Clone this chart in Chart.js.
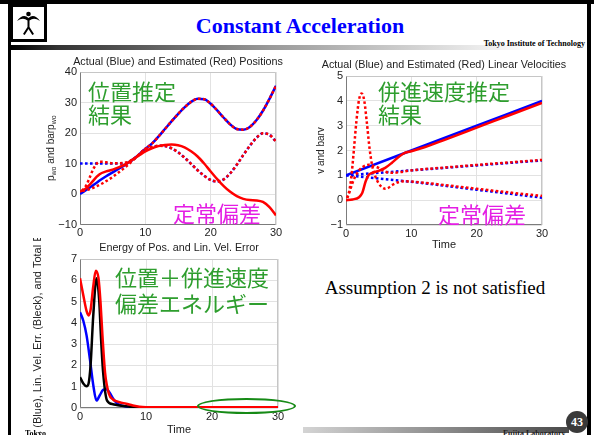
<!DOCTYPE html>
<html>
<head>
<meta charset="utf-8">
<script src="https://cdn.jsdelivr.net/npm/chart.js@4.4.1/dist/chart.umd.min.js"></script>
<style>
  html, body { margin: 0; padding: 0; background: #fff; }
  body { width: 594px; height: 435px; position: relative; overflow: hidden; font-family: "Liberation Serif", "Times New Roman", serif; }
  .abs { position: absolute; }
  canvas { position: absolute; display: block; }
  #c3 { background: #fff; }
  .jp { position: absolute; font-family: "Noto Sans CJK JP", sans-serif; font-size: 22px; white-space: pre; z-index: 5; }
  .green { color: #2e9e2e; }
  .magenta { color: #e41ee4; }
</style>
</head>
<body>
  <!-- slide frame -->
  <div class="abs" style="left:0;top:0;width:594px;height:4px;background:#000;"></div>
  <div class="abs" style="left:8px;top:0;width:3px;height:435px;background:#000;"></div>
  <div class="abs" style="left:587px;top:0;width:4px;height:435px;background:#000;"></div>
  <div class="abs" style="left:10px;top:4px;width:31px;height:32px;border:3px solid #000;background:#fff;">
    <svg width="31" height="32" viewBox="0 0 31 32">
      <circle cx="15.5" cy="7" r="2.3" fill="#000"/>
      <path d="M4 14 Q10 6 15.5 11 Q21 6 27 14 Q21 10 16.5 13.5 L16.5 20 L21 27 L19.3 28 L15.5 22 L11.7 28 L10 27 L14.5 20 L14.5 13.5 Q10 10 4 14 Z" fill="#000"/>
    </svg>
  </div>
  <div class="abs" style="left:11px;top:45px;width:576px;height:5px;background:linear-gradient(to right,#000 0%,#333 8%,#999 45%,#fff 90%);"></div>
  <div class="abs" style="left:0;top:13px;width:600px;text-align:center;font-weight:bold;font-size:22px;line-height:26px;color:#0000ff;">Constant Acceleration</div>
  <div class="abs" style="right:9px;top:39px;font-weight:bold;font-size:8px;line-height:10px;color:#000;">Tokyo Institute of Technology</div>

  <canvas id="c1" width="270" height="200" style="left:20px;top:52px;width:270px;height:200px;"></canvas>
  <canvas id="c2" width="280" height="204" style="left:300px;top:50px;width:280px;height:204px;"></canvas>
  <canvas id="c3" width="270" height="202" style="left:20px;top:238px;width:270px;height:202px;"></canvas>

  <div class="jp green" style="left:88px;top:79px;line-height:23px;">位置推定
結果</div>
  <div class="jp magenta" style="left:173px;top:200px;line-height:24px;">定常偏差</div>
  <div class="jp green" style="left:378px;top:79px;line-height:23px;">併進速度推定
結果</div>
  <div class="jp magenta" style="left:438px;top:201px;line-height:24px;">定常偏差</div>
  <div class="jp green" style="left:115px;top:263px;line-height:26px;">位置＋併進速度
偏差エネルギー</div>
  <div class="abs" style="left:197px;top:398px;width:95px;height:12px;border:2.5px solid #168a16;border-radius:50%;z-index:5;"></div>

  <div class="abs" style="left:300px;top:277px;width:270px;text-align:center;font-size:19px;line-height:22px;color:#000;">Assumption 2 is not satisfied</div>

  <!-- footer -->
  <div class="abs" style="left:303px;top:427px;width:266px;height:6px;background:linear-gradient(to right,#d4d4d4,#4a4a4a);"></div>
  <div class="abs" style="left:503px;top:429px;font-weight:bold;font-size:8px;line-height:10px;color:#222;">Fujita Laboratory</div>
  <div class="abs" style="left:566px;top:411px;width:22px;height:22px;border-radius:50%;background:#3a3a3a;color:#fff;font-weight:bold;font-size:12px;line-height:22px;text-align:center;z-index:6;">43</div>
  <div class="abs" style="left:25px;top:429px;font-weight:bold;font-size:8px;line-height:10px;color:#000;z-index:6;">Tokyo</div>

<script>
// ---------- position estimates ----------
const posTime = [0, 0.5, 1, 1.5, 2, 2.5, 3, 4, 5, 6, 7, 8, 9, 10, 11, 12, 13, 14, 15, 16, 17, 18, 19, 20, 21, 22, 23, 24, 25, 26, 27, 28, 29, 30];
const posActualA = [0, 0.7, 1.4, 2.1, 2.9, 3.6, 4.4, 5.8, 7.1, 8.4, 9.7, 11.2, 12.9, 14.8, 16.5, 18.8, 21.3, 23.8, 26.2, 28.4, 30.2, 31.2, 31.1, 29.6, 27.4, 25.0, 22.8, 21.3, 21.1, 22.0, 24.2, 27.3, 31.2, 35.5];
const posActualB = [10, 10, 10, 10, 10, 10, 10, 10, 10, 10, 10.1, 11.0, 12.8, 14.8, 15.4, 15.8, 15.7, 15.0, 13.7, 11.9, 9.9, 7.8, 6.0, 4.6, 4.1, 4.8, 6.8, 9.6, 12.8, 15.8, 18.4, 19.9, 19.4, 17.2];
const posEstA = [1.0, 1.1, 1.3, 1.6, 2.0, 2.5, 3.0, 4.2, 5.6, 7.2, 8.9, 10.8, 12.8, 14.8, 16.5, 18.8, 21.3, 23.8, 26.2, 28.4, 30.2, 31.2, 31.1, 29.6, 27.4, 25.0, 22.8, 21.3, 21.1, 22.0, 24.2, 27.3, 31.2, 35.5];
const posEstB = [0.6, 1.5, 3.0, 5.5, 8.0, 9.8, 10.6, 10.4, 10.1, 10.1, 10.3, 11.2, 12.9, 14.8, 15.4, 15.8, 15.7, 15.0, 13.7, 11.9, 9.9, 7.8, 6.0, 4.6, 4.1, 4.8, 6.8, 9.6, 12.8, 15.8, 18.4, 19.9, 19.4, 17.2];
const posEstC = [0.8, 1.3, 2.0, 3.1, 4.3, 5.5, 6.5, 7.4, 8.0, 8.8, 9.8, 11.2, 12.6, 14.0, 15.0, 15.7, 16.1, 16.2, 16.0, 15.3, 14.0, 12.3, 10.0, 7.4, 4.9, 2.6, 0.7, -0.7, -1.6, -2.0, -2.1, -2.6, -4.3, -7.0];

// ---------- linear velocity estimates ----------
const velLineTime = [0, 10, 20, 30];
const velActualA = [1.0, 2.0, 3.0, 4.0];
const velActualB = [1.0, 1.2, 1.4, 1.6];
const velActualC = [1.0, 0.74, 0.42, 0.1];
const velEstATime = [0, 1, 2, 2.5, 3, 3.5, 4, 5, 6, 7, 8, 9, 10, 12, 15, 20, 25, 30];
const velEstA = [0, 0.03, 0.12, 0.3, 0.75, 1.02, 1.1, 1.18, 1.3, 1.5, 1.73, 1.9, 1.97, 2.13, 2.42, 2.92, 3.42, 3.92];
const velEstBTime = [0, 0.4, 0.8, 1.2, 1.6, 2.0, 2.4, 2.8, 3.2, 3.6, 4.0, 4.5, 5, 5.5, 6, 6.5, 7, 8, 9, 10, 15, 20, 25, 30];
const velEstB = [0, 0.25, 0.9, 2.0, 3.2, 4.05, 4.3, 4.0, 3.1, 2.1, 1.4, 0.95, 0.68, 0.52, 0.46, 0.5, 0.6, 0.72, 0.76, 0.75, 0.61, 0.46, 0.31, 0.17];
const velEstCTime = [0, 0.5, 1, 1.5, 2, 2.5, 3, 3.5, 4, 5, 6, 7, 8, 10, 15, 20, 25, 30];
const velEstC = [0, 0.3, 0.7, 1.0, 1.2, 1.32, 1.4, 1.43, 1.4, 1.3, 1.15, 1.1, 1.12, 1.2, 1.31, 1.42, 1.52, 1.62];

// ---------- error energies ----------
const enTotalTime = [0, 0.5, 1, 1.3, 1.6, 2, 2.4, 2.8, 3.1, 3.4, 3.8, 4.4, 5, 5.5, 6, 7, 8, 9, 10, 15, 20, 25, 30];
const enTotal = [6.1, 5.3, 4.55, 4.35, 4.6, 5.7, 6.45, 6.1, 5.0, 3.4, 1.65, 0.65, 0.4, 0.32, 0.27, 0.2, 0.12, 0.06, 0.04, 0.03, 0.03, 0.03, 0.03];
const enPosTime = [0, 0.5, 1, 1.5, 2, 2.5, 3, 3.5, 4, 4.5, 5, 5.5, 6, 7, 8, 10, 15, 30];
const enPos = [4.5, 4.1, 3.4, 2.3, 1.1, 0.35, 0.6, 0.85, 0.88, 0.72, 0.45, 0.25, 0.15, 0.07, 0.03, 0.01, 0, 0];
const enVelTime = [0, 0.5, 1, 1.3, 1.6, 2, 2.5, 2.9, 3.2, 3.5, 4.1, 5, 6, 7, 8, 10, 15, 30];
const enVel = [1.45, 1.15, 1.02, 1.15, 2.0, 4.3, 6.1, 5.1, 3.2, 1.7, 0.35, 0.18, 0.12, 0.08, 0.04, 0.01, 0, 0];

const FONT = "'Liberation Sans', Arial, sans-serif";
const TXT = '#222';
const GRID = '#e2e2e2';
const RED = '#ff0000', BLUE = '#0000ff', BLACK = '#000000';

function zip(t, v) { return t.map((x, i) => ({ x: x, y: v[i] })); }

function series(t, v, color, dotted, offset) {
  return {
    data: zip(t, v),
    borderColor: color,
    borderWidth: 2.5,
    borderDash: dotted ? [2.6, 2.4] : [],
    borderDashOffset: offset || 0,
    pointRadius: 0,
    fill: false,
    cubicInterpolationMode: 'monotone'
  };
}

const minusFmt = v => String(v).replace('-', '\u2212');

function xAxis(max, title, titlePad, height) {
  return {
    type: 'linear', min: 0, max: max,
    ticks: { stepSize: 10, padding: 2, autoSkip: false, maxRotation: 0, color: TXT, font: { family: FONT, size: 11 } },
    grid: { color: GRID, drawTicks: false },
    border: { display: false },
    title: { display: !!title, text: title || '', color: TXT, font: { family: FONT, size: 11, lineHeight: 1.2 }, padding: { top: 0, bottom: titlePad } },
    afterFit(s) { s.height = height; }
  };
}

function yAxis(min, max, step, width, title, titlePad, titleSize) {
  return {
    type: 'linear', min: min, max: max,
    ticks: { stepSize: step, padding: 3, color: TXT, font: { family: FONT, size: 11 }, callback: minusFmt },
    grid: { color: GRID, drawTicks: false },
    border: { display: false },
    title: { display: !!title, text: title || '', color: TXT, font: { family: FONT, size: titleSize || 10, lineHeight: 1.2 }, padding: { top: titlePad || 0, bottom: 0 } },
    afterFit(s) { s.width = width; }
  };
}

// frame around the plot area
const boxPlugin = {
  id: 'plotBox',
  beforeDatasetsDraw(chart) {
    const { ctx, chartArea: a } = chart;
    const l = Math.round(a.left) + 0.5, t = Math.round(a.top) + 0.5;
    const r = Math.round(a.right) - 0.5, b = Math.round(a.bottom) - 0.5;
    ctx.save();
    ctx.lineWidth = 1;
    ctx.strokeStyle = '#c6c6c6';
    ctx.beginPath(); ctx.moveTo(l, t); ctx.lineTo(r, t); ctx.lineTo(r, b); ctx.stroke();
    ctx.strokeStyle = '#7c7c7c';
    ctx.beginPath(); ctx.moveTo(l, t); ctx.lineTo(l, b); ctx.lineTo(r, b); ctx.stroke();
    ctx.restore();
  }
};

// plot heading centred over the plot area, drawn at its natural width
const headingPlugin = {
  id: 'plotHeading',
  afterDraw(chart, args, opts) {
    if (!opts || !opts.text) return;
    const { ctx, chartArea: a } = chart;
    ctx.save();
    ctx.fillStyle = TXT;
    ctx.font = opts.size + 'px ' + FONT;
    ctx.textAlign = 'center';
    ctx.textBaseline = 'middle';
    ctx.fillText(opts.text, (a.left + a.right) / 2, opts.y);
    ctx.restore();
  }
};

// vertical axis label with subscripts
const subLabelPlugin = {
  id: 'subLabel',
  afterDraw(chart, args, opts) {
    if (!opts || !opts.parts) return;
    const { ctx, chartArea: a } = chart;
    ctx.save();
    ctx.translate(opts.x, (a.top + a.bottom) / 2);
    ctx.rotate(-Math.PI / 2);
    ctx.fillStyle = TXT;
    ctx.textBaseline = 'alphabetic';
    const fontOf = p => (p.sub ? opts.subSize : opts.size) + 'px ' + FONT;
    let total = 0;
    opts.parts.forEach(p => { ctx.font = fontOf(p); total += ctx.measureText(p.text).width; });
    let cx = -total / 2;
    opts.parts.forEach(p => {
      ctx.font = fontOf(p);
      ctx.fillText(p.text, cx, p.sub ? 5.5 : 3.5);
      cx += ctx.measureText(p.text).width;
    });
    ctx.restore();
  }
};

function baseOptions(padTop, padRight, heading, scales, extraPlugins) {
  return {
    responsive: false,
    animation: false,
    devicePixelRatio: 1,
    layout: { padding: { left: 0, top: padTop, right: padRight, bottom: 0 } },
    plugins: Object.assign({ legend: { display: false }, tooltip: { enabled: false }, title: { display: false }, plotHeading: heading }, extraPlugins || {}),
    scales: scales
  };
}

// Actual (Blue) and Estimated (Red) Positions
new Chart(document.getElementById('c1'), {
  type: 'line',
  data: {
    datasets: [
      series(posTime, posEstC, RED, false),
      series(posTime, posEstA, RED, true, 2.5),
      series(posTime, posEstB, RED, true, 2.5),
      series(posTime, posActualA, BLUE, false),
      series(posTime, posActualB, BLUE, true)
    ]
  },
  options: baseOptions(20, 14, { text: 'Actual (Blue) and Estimated (Red) Positions', size: 10.75, y: 10 }, {
    x: xAxis(30, 'Time', 1.4, 27.5),
    y: yAxis(-10, 40, 10, 60)
  }, {
    subLabel: { x: 30, size: 10, subSize: 7, parts: [
      { text: 'p', sub: false }, { text: 'wo', sub: true },
      { text: ' and barp', sub: false }, { text: 'wo', sub: true }
    ] }
  }),
  plugins: [boxPlugin, headingPlugin, subLabelPlugin]
});

// Actual (Blue) and Estimated (Red) Linear Velocities
new Chart(document.getElementById('c2'), {
  type: 'line',
  data: {
    datasets: [
      series(velEstATime, velEstA, RED, false),
      series(velEstBTime, velEstB, RED, true, 2.5),
      series(velEstCTime, velEstC, RED, true, 2.5),
      series(velLineTime, velActualA, BLUE, false),
      series(velLineTime, velActualB, BLUE, true),
      series(velLineTime, velActualC, BLUE, true)
    ]
  },
  options: baseOptions(26, 38, { text: 'Actual (Blue) and Estimated (Red) Linear Velocities', size: 10.75, y: 15 }, {
    x: xAxis(30, 'Time', 2.4, 29),
    y: yAxis(-1, 5, 1, 46, 'v and barv', 15.4)
  }),
  plugins: [boxPlugin, headingPlugin]
});

// Energy of Pos. and Lin. Vel. Error
new Chart(document.getElementById('c3'), {
  type: 'line',
  data: {
    datasets: [
      series(enTotalTime, enTotal, RED, false),
      series(enVelTime, enVel, BLACK, false),
      series(enPosTime, enPos, BLUE, false)
    ]
  },
  options: baseOptions(21, 12, { text: 'Energy of Pos. and Lin. Vel. Error', size: 10.75, y: 10 }, {
    x: xAxis(30, 'Time', 3.4, 32),
    y: yAxis(0, 7, 1, 60, 'Pos. Err. (Blue), Lin. Vel. Err. (Bleck), and Total Err. (Red)', 11.4, 11)
  }),
  plugins: [boxPlugin, headingPlugin]
});
</script>
</body>
</html>
